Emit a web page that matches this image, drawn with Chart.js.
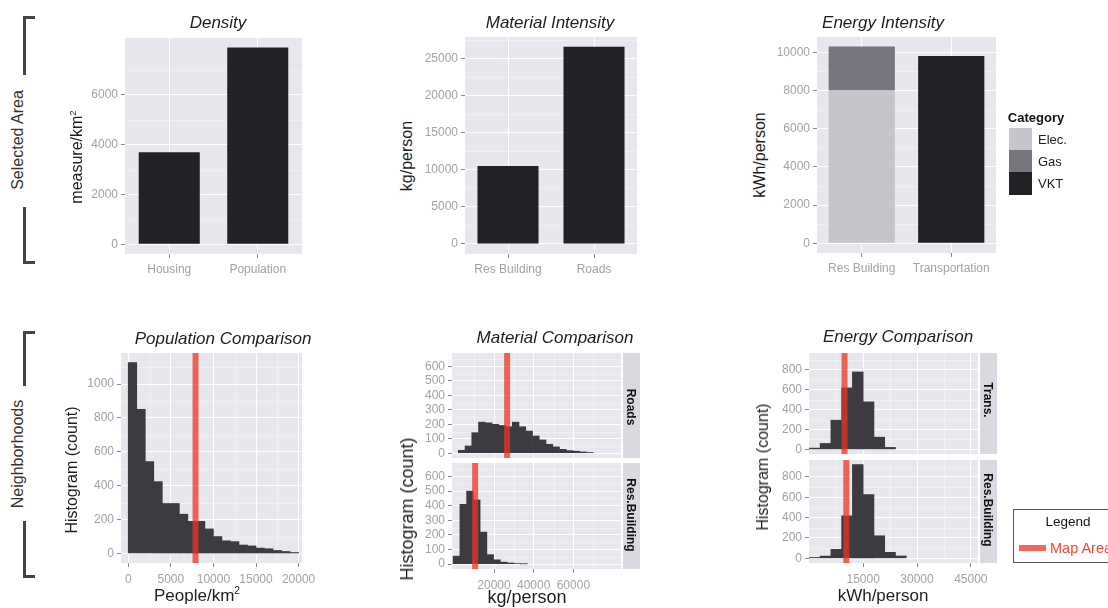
<!doctype html>
<html lang="en">
<head>
<meta charset="utf-8">
<title>Selected Area vs Neighborhoods</title>
<script src="https://cdn.jsdelivr.net/npm/chart.js"></script>
<style>
  body { margin: 0; background: #fff; font-family: "Liberation Sans", Arial, sans-serif; }
  #page { position: relative; width: 1108px; height: 608px; overflow: hidden; }
  .box { position: absolute; }
  .txt { position: absolute; white-space: nowrap; transform: translate(-50%, -50%); color: #1e1e1e; line-height: 1; }
  .rot { transform: translate(-50%, -50%) rotate(-90deg); }
  .rot90 { transform: translate(-50%, -50%) rotate(90deg); }
  .ttl { font-size: 17px; font-style: italic; }
  .ax { font-size: 16px; }
  .side { font-size: 16px; color: #333; }
  .stripTxt { font-size: 12px; font-weight: bold; color: #111; }
  sup { font-size: 60%; vertical-align: 0.6em; line-height: 0; }
  .strip { position: absolute; background: #d9dae0; }
  .brk { position: absolute; border: 0 solid #444; }
  .sw { position: absolute; }
  .lbl { position: absolute; font-size: 13px; color: #222; transform: translateY(-50%); white-space: nowrap; }
</style>
</head>
<body>
<div id="page"></div>

<script>
  // ---- top row: selected area ----
  const densityCats = ['Housing', 'Population'];
  const densityVals = [3700, 7900];
  const densityTicks = [0, 2000, 4000, 6000];

  const materialCats = ['Res Building', 'Roads'];
  const materialVals = [10500, 26600];
  const materialTicks = [0, 5000, 10000, 15000, 20000, 25000];

  const energyCats = ['Res Building', 'Transportation'];
  const energyElec = [8000, 0];
  const energyGas = [2300, 0];
  const energyVkt = [0, 9800];
  const energyTicks = [0, 2000, 4000, 6000, 8000, 10000];

  // ---- bottom row: neighborhood histograms (bin centers + counts) ----
  const popBins = [500, 1500, 2500, 3500, 4500, 5500, 6500, 7500, 8500, 9500,
                   10500, 11500, 12500, 13500, 14500, 15500, 16500, 17500, 18500, 19500];
  const popCounts = [1127, 850, 543, 424, 295, 295, 232, 190, 190, 145,
                     100, 75, 70, 50, 45, 32, 28, 18, 12, 6];
  const popMapArea = 7900;
  const popXTicks = [0, 5000, 10000, 15000, 20000];
  const popYTicks = [0, 200, 400, 600, 800, 1000];

  const roadBins = [3700, 7100, 10500, 13900, 17300, 20700, 24100, 27500, 30900, 34300,
                    37700, 41100, 44500, 47900, 51300, 54700, 58100, 61500, 64900, 68300];
  const roadCounts = [20, 50, 142, 215, 210, 200, 192, 183, 215, 183,
                      153, 119, 92, 62, 44, 27, 18, 14, 9, 5];
  const resMatBins = [1100, 4500, 7900, 11300, 14700, 18100, 21500, 24900, 28300, 31700, 35100];
  const resMatCounts = [55, 410, 500, 440, 220, 65, 30, 14, 8, 4, 2];
  const roadMapArea = 26600;
  const resMatMapArea = 10500;
  const matXTicks = [20000, 40000, 60000];
  const matYTicks = [0, 100, 200, 300, 400, 500, 600];

  const transBins = [1500, 4500, 7500, 10500, 13500, 16500, 19500, 22500];
  const transCounts = [13, 60, 293, 617, 777, 477, 123, 20];
  const resEnBins = [1500, 4500, 7500, 10500, 13500, 16500, 19500, 22500, 25500];
  const resEnCounts = [8, 22, 88, 418, 921, 627, 222, 59, 23];
  const transMapArea = 9800;
  const resEnMapArea = 10300;
  const enXTicks = [15000, 30000, 45000];
  const enYTicks = [0, 200, 400, 600, 800];

  const FONT = "'Liberation Sans', Arial, sans-serif";
  const TICK = '#a2a2a8';
  const PANEL = '#e7e8ee';
  const BAR = '#222226';
  const HIST = '#3b3b41';
  const RED = 'rgba(236, 52, 36, 0.75)';

  const page = document.getElementById('page');

  // grey ggplot-like panel behind the grid
  const panelBg = {
    id: 'panelBg',
    beforeDraw(chart) {
      const { ctx, chartArea: a } = chart;
      ctx.save();
      ctx.fillStyle = PANEL;
      ctx.fillRect(a.left, a.top, a.width, a.height);
      ctx.restore();
    }
  };

  // thin minor grid lines halfway between the major ticks of linear axes
  const minorGrid = {
    id: 'minorGrid',
    beforeDatasetsDraw(chart) {
      const { ctx, chartArea: a } = chart;
      ctx.save();
      ctx.strokeStyle = 'rgba(255,255,255,0.7)';
      ctx.lineWidth = 0.5;
      Object.values(chart.scales).forEach(s => {
        if (s.type !== 'linear' || s.ticks.length < 2) return;
        const t = s.ticks.map(k => k.value);
        const step = t[1] - t[0];
        const mids = [t[0] - step / 2].concat(t.map(v => v + step / 2));
        mids.forEach(v => {
          if (v <= s.min || v >= s.max) return;
          const p = Math.round(s.getPixelForValue(v)) + 0.5;
          ctx.beginPath();
          if (s.isHorizontal()) { ctx.moveTo(p, a.top); ctx.lineTo(p, a.bottom); }
          else { ctx.moveTo(a.left, p); ctx.lineTo(a.right, p); }
          ctx.stroke();
        });
      });
      ctx.restore();
    }
  };

  function yScale(min, max, ticks, extra) {
    return Object.assign({
      type: 'linear', min: min, max: max,
      afterBuildTicks: s => { s.ticks = ticks.map(v => ({ value: v })); },
      afterFit: s => { s.width = 48; s.paddingTop = 0; s.paddingBottom = 0; },
      grid: { color: '#ffffff', lineWidth: 1, tickLength: 4, tickColor: '#8a8a8a' },
      border: { display: false },
      ticks: { color: TICK, font: { family: FONT, size: 12 }, padding: 3, autoSkip: false, callback: v => String(v) }
    }, extra || {});
  }

  function catScale(h, extra) {
    return Object.assign({
      type: 'category', offset: true,
      afterFit: s => { s.height = h; s.paddingLeft = 0; s.paddingRight = 0; },
      grid: { offset: false, color: '#ffffff', lineWidth: 1, tickLength: 4, tickColor: '#8a8a8a' },
      border: { display: false },
      ticks: { color: TICK, font: { family: FONT, size: 12 }, padding: 4, maxRotation: 0, autoSkip: false }
    }, extra || {});
  }

  function linScale(min, max, ticks, h, showLabels) {
    return {
      type: 'linear', min: min, max: max, offset: false,
      afterBuildTicks: s => { s.ticks = ticks.map(v => ({ value: v })); },
      afterFit: s => { s.height = h; s.paddingLeft = 0; s.paddingRight = 0; },
      grid: { offset: false, color: '#ffffff', lineWidth: 1, drawTicks: showLabels, tickLength: 4, tickColor: '#8a8a8a' },
      border: { display: false },
      ticks: { display: showLabels, color: TICK, font: { family: FONT, size: 12 }, padding: 5, maxRotation: 0, autoSkip: false, callback: v => String(v) }
    };
  }

  // area = plot panel in page pixels; axis boxes hang off it
  function makePanel(area, xAxisH, config) {
    const padL = 48, padT = 10, padR = 30;
    const div = document.createElement('div');
    div.className = 'box';
    div.style.left = (area.x - padL) + 'px';
    div.style.top = (area.y - padT) + 'px';
    div.style.width = (area.w + padL + padR) + 'px';
    div.style.height = (area.h + padT + xAxisH) + 'px';
    const canvas = document.createElement('canvas');
    div.appendChild(canvas);
    page.appendChild(div);
    config.options = Object.assign({
      responsive: true, maintainAspectRatio: false, animation: false,
      layout: { padding: { left: 0, top: padT, right: padR, bottom: 0 } },
      plugins: { legend: { display: false }, tooltip: { enabled: false }, title: { display: false } }
    }, config.options);
    config.plugins = [panelBg, minorGrid];
    return new Chart(canvas, config);
  }

  function histPanel(area, xAxisH, showX, xr, yr, xt, yt, bins, counts, mapVal) {
    return makePanel(area, xAxisH, {
      type: 'bar',
      data: {
        datasets: [
          { type: 'line', data: [{ x: mapVal, y: yr[0] }, { x: mapVal, y: yr[1] }],
            borderColor: RED, borderWidth: 6, borderCapStyle: 'butt', pointRadius: 0, order: 0 },
          { data: bins.map((b, i) => ({ x: b, y: counts[i] })), backgroundColor: HIST,
            borderWidth: 0, barPercentage: 1, categoryPercentage: 1, order: 1 }
        ]
      },
      options: {
        scales: {
          x: linScale(xr[0], xr[1], xt, xAxisH, showX),
          y: yScale(yr[0], yr[1], yt)
        }
      }
    });
  }

  // ---- Density ----
  makePanel({ x: 125, y: 38, w: 177, h: 216 }, 35, {
    type: 'bar',
    data: { labels: densityCats, datasets: [{ data: densityVals, backgroundColor: BAR, barPercentage: 0.69, categoryPercentage: 1 }] },
    options: { scales: { x: catScale(35), y: yScale(-390, 8285, densityTicks) } }
  });

  // ---- Material Intensity ----
  makePanel({ x: 465, y: 37, w: 172, h: 217 }, 35, {
    type: 'bar',
    data: { labels: materialCats, datasets: [{ data: materialVals, backgroundColor: BAR, barPercentage: 0.71, categoryPercentage: 1 }] },
    options: { scales: { x: catScale(35), y: yScale(-1350, 27900, materialTicks) } }
  });

  // ---- Energy Intensity (stacked) ----
  makePanel({ x: 817, y: 37, w: 179, h: 216 }, 35, {
    type: 'bar',
    data: {
      labels: energyCats,
      datasets: [
        { label: 'Elec.', data: energyElec, backgroundColor: '#c6c5cc', barPercentage: 0.74, categoryPercentage: 1 },
        { label: 'Gas', data: energyGas, backgroundColor: '#77767e', barPercentage: 0.74, categoryPercentage: 1 },
        { label: 'VKT', data: energyVkt, backgroundColor: BAR, barPercentage: 0.74, categoryPercentage: 1 }
      ]
    },
    options: { scales: { x: catScale(35, { stacked: true }), y: yScale(-510, 10800, energyTicks, { stacked: true }) } }
  });

  // ---- Population Comparison ----
  histPanel({ x: 121, y: 353, w: 181, h: 210 }, 30, true, [-850, 20400], [-56, 1183],
    popXTicks, popYTicks, popBins, popCounts, popMapArea);

  // ---- Material Comparison (facets) ----
  histPanel({ x: 452, y: 353, w: 169, h: 105 }, 0, false, [-1170, 84000], [-33, 693],
    matXTicks, matYTicks, roadBins, roadCounts, roadMapArea);
  histPanel({ x: 452, y: 463, w: 169, h: 106 }, 30, true, [-1170, 84000], [-33, 693],
    matXTicks, matYTicks, resMatBins, resMatCounts, resMatMapArea);

  // ---- Energy Comparison (facets) ----
  histPanel({ x: 809, y: 353, w: 169, h: 101 }, 0, false, [-100, 47000], [-46, 967],
    enXTicks, enYTicks, transBins, transCounts, transMapArea);
  histPanel({ x: 809, y: 460, w: 169, h: 103 }, 30, true, [-100, 47000], [-46, 967],
    enXTicks, enYTicks, resEnBins, resEnCounts, resEnMapArea);

  // ---- text, strips, brackets, legends ----
  function txt(html, x, y, cls, style) {
    const d = document.createElement('div');
    d.className = 'txt ' + cls;
    d.innerHTML = html;
    d.style.left = x + 'px';
    d.style.top = y + 'px';
    if (style) d.style.cssText += style;
    page.appendChild(d);
  }
  function el(cls, x, y, w, h, style) {
    const d = document.createElement('div');
    d.className = cls;
    d.style.cssText = `left:${x}px;top:${y}px;width:${w}px;height:${h}px;` + (style || '');
    page.appendChild(d);
    return d;
  }
  function lbl(text, x, y, style) {
    const d = document.createElement('div');
    d.className = 'lbl';
    d.textContent = text;
    d.style.cssText = `left:${x}px;top:${y}px;` + (style || '');
    page.appendChild(d);
  }

  txt('Density', 218, 22, 'ttl');
  txt('Material Intensity', 550, 22, 'ttl');
  txt('Energy Intensity', 883, 22, 'ttl');
  txt('Population Comparison', 223, 338, 'ttl');
  txt('Material Comparison', 555, 337, 'ttl');
  txt('Energy Comparison', 898, 336, 'ttl');

  txt('measure/km<sup>2</sup>', 77, 157, 'ax rot');
  txt('kg/person', 407, 156, 'ax rot');
  txt('kWh/person', 760, 155, 'ax rot');
  txt('Histogram (count)', 72, 470, 'ax rot');
  txt('Histogram (count)', 407, 509, 'ax rot', 'font-size:18px;');
  txt('Histogram (count)', 763, 467, 'ax rot');
  txt('People/km<sup>2</sup>', 197, 595, 'ax', 'font-size:17px;');
  txt('kg/person', 527, 597, 'ax', 'font-size:18px;');
  txt('kWh/person', 883, 595, 'ax', 'font-size:17px;');

  txt('Selected Area', 18, 140, 'side rot');
  txt('Neighborhoods', 18, 454, 'side rot');
  el('brk', 23, 16, 9, 56, 'border-left-width:3px;border-top-width:3px;');
  el('brk', 23, 207, 9, 54, 'border-left-width:3px;border-bottom-width:3px;');
  el('brk', 23, 331, 9, 52, 'border-left-width:3px;border-top-width:3px;');
  el('brk', 23, 521, 9, 54, 'border-left-width:3px;border-bottom-width:3px;');

  el('strip', 623, 353, 17, 105);
  el('strip', 623, 463, 17, 106);
  el('strip', 980, 353, 17, 101);
  el('strip', 980, 460, 17, 103);
  txt('Roads', 631, 407, 'stripTxt rot90');
  txt('Res.Building', 631, 515, 'stripTxt rot90');
  txt('Trans.', 988, 400, 'stripTxt rot90');
  txt('Res.Building', 988, 510, 'stripTxt rot90');

  // Category legend
  txt('Category', 1036, 117, '', 'font-size:13px;font-weight:bold;color:#111;');
  el('sw', 1009, 128, 23, 22, 'background:#c6c5cc;');
  el('sw', 1009, 150, 23, 22, 'background:#77767e;');
  el('sw', 1009, 172, 23, 23, 'background:' + BAR + ';');
  lbl('Elec.', 1038, 139);
  lbl('Gas', 1038, 161);
  lbl('VKT', 1038, 183);

  // Map Area legend
  el('box', 1013, 509, 120, 52, 'border:1px solid #555;');
  txt('Legend', 1068, 522, '', 'font-size:13.5px;color:#111;');
  el('sw', 1019, 545, 27, 6, 'background:' + RED + ';');
  lbl('Map Area', 1050, 548, 'font-size:14.5px;color:#ee4a36;');
</script>
</body>
</html>
